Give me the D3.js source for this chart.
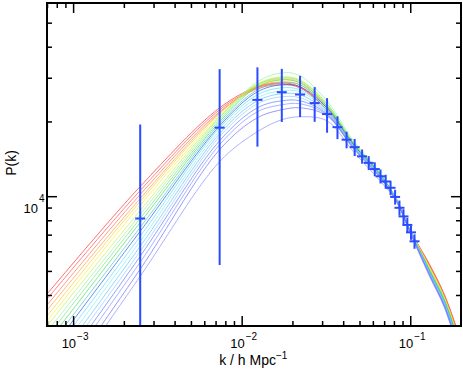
<!DOCTYPE html>
<html>
<head>
<meta charset="utf-8">
<script src="https://cdn.jsdelivr.net/npm/d3@7"></script>
<style>
  body { margin: 0; background: #fff; }
  svg { display: block; font-family: 'Liberation Sans', Arial, Helvetica, sans-serif; }
</style>
</head>
<body>
<svg id="chart"></svg>
<script>
// measured band powers (k in h/Mpc, P(k) and 1-sigma error)
const dataK = [0.0025, 0.0074, 0.0124, 0.0173, 0.0222, 0.0271, 0.0321, 0.0370, 0.0419, 0.0468, 0.0518,
  0.0567, 0.0616, 0.0666, 0.0715, 0.0764, 0.0813, 0.0863, 0.0912, 0.0961, 0.1010, 0.1060];
const dataP = [8130, 18880, 24430, 26240, 25680, 23720, 21420, 18970, 16890, 15760, 14470,
  13620, 12860, 12030, 11460, 10810, 9930, 8980, 8290, 7660, 7150, 6580];
const dataErr = [11300, 13600, 8600, 6330, 4850, 3790, 3400, 2000, 1300, 1250, 950,
  880, 830, 780, 740, 720, 680, 620, 570, 520, 480, 440];

// model spectra, sampled at modelK (one row per model, red -> blue)
const modelK = [0.0007, 0.0025, 0.0074, 0.0124, 0.0173, 0.0222, 0.032, 0.046, 0.066, 0.083, 0.1, 0.13, 0.16, 0.2];
const modelP = [
  [4030, 10940, 22700, 27570, 28610, 27570, 22290, 15980, 12220, 9710, 7280, 5320, 3990, 2610],
  [3850, 10540, 22290, 27320, 28350, 27320, 22290, 15980, 12220, 9710, 7280, 5270, 3960, 2585],
  [3640, 10160, 21880, 27070, 28090, 27320, 22290, 15980, 12220, 9710, 7280, 5270, 3960, 2560],
  [3470, 9790, 21680, 27570, 28880, 28090, 22700, 16130, 12220, 9710, 7280, 5220, 3920, 2540],
  [3290, 9530, 21480, 28090, 29690, 28880, 23130, 16280, 12330, 9710, 7280, 5170, 3880, 2510],
  [3140, 9190, 21090, 27830, 29420, 28610, 23130, 16280, 12330, 9710, 7280, 5170, 3850, 2490],
  [3000, 8760, 20890, 28350, 30250, 29420, 23560, 16430, 12330, 9710, 7280, 5120, 3850, 2470],
  [2840, 8440, 20700, 28880, 31390, 30530, 24220, 16730, 12450, 9710, 7280, 5080, 3810, 2450],
  [2710, 8140, 20320, 28090, 29970, 29150, 23560, 16430, 12330, 9710, 7280, 5080, 3780, 2420],
  [2560, 7840, 19950, 27570, 29420, 28610, 23130, 16280, 12330, 9620, 7220, 5030, 3780, 2420],
  [2420, 7490, 19580, 26820, 28610, 28090, 22920, 16130, 12220, 9620, 7220, 4980, 3740, 2400],
  [2290, 7220, 19220, 26330, 28090, 27570, 22700, 16130, 12220, 9620, 7220, 4980, 3710, 2380],
  [2170, 6890, 18870, 25610, 27320, 26820, 22290, 15980, 12220, 9620, 7220, 4940, 3710, 2360],
  [2050, 6580, 18360, 24910, 26570, 26330, 22090, 15980, 12110, 9620, 7220, 4940, 3670, 2330],
  [1920, 6280, 17860, 24220, 25850, 25610, 21880, 15830, 12110, 9620, 7220, 4890, 3640, 2310],
  [1820, 6000, 17370, 23560, 25140, 24910, 21680, 15830, 12110, 9620, 7220, 4890, 3640, 2290],
  [1700, 5730, 16730, 22700, 24220, 24220, 21480, 15680, 12000, 9530, 7150, 4850, 3610, 2270],
  [1600, 5420, 16130, 21880, 23340, 23560, 21280, 15680, 12000, 9530, 7150, 4850, 3570, 2250],
  [1470, 5080, 15400, 20700, 22290, 22700, 21090, 15540, 11890, 9530, 7150, 4800, 3570, 2230],
  [1370, 4760, 13780, 18190, 20320, 20890, 20130, 15120, 11560, 9530, 7080, 4760, 3540, 2210]
];

// axis ticks
const xMajor = [1e-3, 1e-2, 1e-1];
const xTickExp = ['\u22123', '\u22122', '\u22121'];
const xMinor = [7e-4, 8e-4, 9e-4, 2e-3, 3e-3, 4e-3, 5e-3, 6e-3, 7e-3, 8e-3, 9e-3,
  2e-2, 3e-2, 4e-2, 5e-2, 6e-2, 7e-2, 8e-2, 9e-2];
const yMajor = [1e4];
const yTickExp = ['4'];
const yMinor = [4000, 5000, 6000, 7000, 8000, 9000, 20000, 30000, 40000, 50000];

const curveColors = ['#ff2a2a', '#ff4a4a', '#ff6a5a', '#ff9a30', '#ffc830', '#f2ee30', '#c8f040',
  '#90f0a0', '#70e870', '#48d860', '#40d0b0', '#2a50ff', '#50e0f0', '#80ecf8', '#60c0ff',
  '#90c8ff', '#5a7aff', '#8090ff', '#6a6aff', '#8a8aff'];
const barColor = '#2a4cff';

const width = 463;
const height = 372;
const margin = { top: 3, right: 2, bottom: 46, left: 47 };
const innerWidth = width - margin.left - margin.right;
const innerHeight = height - margin.top - margin.bottom;

const svg = d3.select('#chart')
  .attr('width', width)
  .attr('height', height);

const g = svg.append('g')
  .attr('transform', `translate(${margin.left},${margin.top})`);

const x = d3.scaleLog().domain([7e-4, 0.2]).range([0, innerWidth]);
const y = d3.scaleLog().domain([3000, 60000]).range([innerHeight, 0]);

g.append('clipPath').attr('id', 'plot-clip')
  .append('rect')
  .attr('width', innerWidth)
  .attr('height', innerHeight);

const plot = g.append('g').attr('clip-path', 'url(#plot-clip)');

// model curves
const line = d3.line()
  .x(d => x(d[0]))
  .y(d => y(d[1]))
  .curve(d3.curveCatmullRom.alpha(0.5));

plot.selectAll('.model')
  .data(modelP)
  .enter()
  .append('path')
  .attr('class', 'model')
  .attr('fill', 'none')
  .attr('stroke', (d, i) => curveColors[i])
  .attr('stroke-width', 0.8)
  .attr('stroke-opacity', 0.85)
  .attr('d', row => line(row.map((p, j) => [modelK[j], p])));

// error bars
const points = dataK.map((k, i) => ({ k, p: dataP[i], err: dataErr[i] }));
const bars = plot.selectAll('.bar')
  .data(points)
  .enter()
  .append('g')
  .attr('class', 'bar');

bars.append('line')
  .attr('x1', d => x(d.k))
  .attr('x2', d => x(d.k))
  .attr('y1', d => y(d.p + d.err))
  .attr('y2', d => y(Math.max(d.p - d.err, 1000)))
  .attr('stroke', barColor)
  .attr('stroke-width', 2);

bars.append('line')
  .attr('x1', d => x(d.k) - 5)
  .attr('x2', d => x(d.k) + 5)
  .attr('y1', d => y(d.p))
  .attr('y2', d => y(d.p))
  .attr('stroke', barColor)
  .attr('stroke-width', 2);

// axes: ticks point inwards on all four sides, labels drawn separately
function styleAxis(sel) {
  sel.select('.domain').remove();
  sel.selectAll('text').remove();
  sel.selectAll('line').attr('stroke', '#000').attr('stroke-width', 1.5);
}

g.append('g')
  .attr('transform', `translate(0,${innerHeight})`)
  .call(d3.axisBottom(x).tickValues(xMajor).tickSizeInner(-10).tickSizeOuter(0))
  .call(styleAxis);
g.append('g')
  .attr('transform', `translate(0,${innerHeight})`)
  .call(d3.axisBottom(x).tickValues(xMinor).tickSizeInner(-5).tickSizeOuter(0))
  .call(styleAxis);
g.append('g')
  .call(d3.axisTop(x).tickValues(xMajor).tickSizeInner(-10).tickSizeOuter(0))
  .call(styleAxis);
g.append('g')
  .call(d3.axisTop(x).tickValues(xMinor).tickSizeInner(-5).tickSizeOuter(0))
  .call(styleAxis);

g.append('g')
  .call(d3.axisLeft(y).tickValues(yMajor).tickSizeInner(-10).tickSizeOuter(0))
  .call(styleAxis);
g.append('g')
  .call(d3.axisLeft(y).tickValues(yMinor).tickSizeInner(-5).tickSizeOuter(0))
  .call(styleAxis);
g.append('g')
  .attr('transform', `translate(${innerWidth},0)`)
  .call(d3.axisRight(y).tickValues(yMajor).tickSizeInner(-10).tickSizeOuter(0))
  .call(styleAxis);
g.append('g')
  .attr('transform', `translate(${innerWidth},0)`)
  .call(d3.axisRight(y).tickValues(yMinor).tickSizeInner(-5).tickSizeOuter(0))
  .call(styleAxis);

// frame
g.append('rect')
  .attr('width', innerWidth)
  .attr('height', innerHeight)
  .attr('fill', 'none')
  .attr('stroke', '#000')
  .attr('stroke-width', 2);

// power-of-ten tick labels (base "10" and exponent), placed in page coordinates
const xBaseY = margin.top + innerHeight + 22;
xMajor.forEach((d, i) => {
  const px = margin.left + x(d) + 3;
  svg.append('text')
    .attr('x', px)
    .attr('y', xBaseY)
    .attr('text-anchor', 'end')
    .attr('font-size', 13)
    .text('10');
  svg.append('text')
    .attr('x', px + 1)
    .attr('y', xBaseY - 8)
    .attr('font-size', 10)
    .text(xTickExp[i]);
});

yMajor.forEach((d, i) => {
  const px = margin.left - 9;
  const py = margin.top + y(d);
  svg.append('text')
    .attr('x', px)
    .attr('y', py + 17)
    .attr('text-anchor', 'end')
    .attr('font-size', 13)
    .text('10');
  svg.append('text')
    .attr('x', px + 1)
    .attr('y', py + 6)
    .attr('font-size', 10)
    .text(yTickExp[i]);
});

// axis titles
svg.append('text')
  .attr('x', 276)
  .attr('y', 365)
  .attr('text-anchor', 'end')
  .attr('font-size', 14)
  .text('k / h Mpc');
svg.append('text')
  .attr('x', 276)
  .attr('y', 359)
  .attr('font-size', 10)
  .text('\u22121');

svg.append('text')
  .attr('transform', 'translate(16,163) rotate(-90)')
  .attr('text-anchor', 'middle')
  .attr('font-size', 14)
  .text('P(k)');
</script>
</body>
</html>
